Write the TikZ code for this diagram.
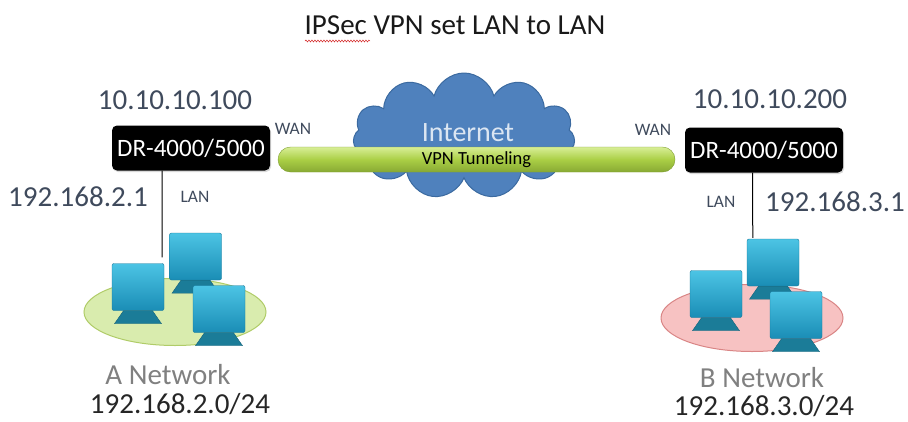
\documentclass[tikz,border=0pt]{standalone}
\usepackage{fontspec}
\setmainfont{Carlito}
\usepackage{tikz}
\usetikzlibrary{positioning,shapes,shadows}
\usetikzlibrary{decorations.pathmorphing}
\usepackage{xcolor}
\definecolor{ipgray}{HTML}{3F4A5C}
\definecolor{netgray}{HTML}{808080}
\definecolor{cloudblue}{HTML}{4F81BD}
\definecolor{cloudedge}{HTML}{3B6AA0}
\definecolor{cloudtext}{HTML}{DCE6F2}
\definecolor{tubetop}{HTML}{D8EE96}
\definecolor{tubemid}{HTML}{AACF45}
\definecolor{tubebot}{HTML}{88A934}
\definecolor{tubeedge}{HTML}{7E9E30}
\definecolor{scrtop}{HTML}{4CC4E4}
\definecolor{scrbot}{HTML}{1A8DB5}
\definecolor{scredge}{HTML}{17789A}
\definecolor{standcol}{HTML}{1B7C98}
\definecolor{lanAfill}{HTML}{D9ECAE}
\definecolor{lanAedge}{HTML}{B0CC68}
\definecolor{lanBfill}{HTML}{F7C2C2}
\definecolor{lanBedge}{HTML}{D98585}

\begin{document}
\begin{tikzpicture}[x=1pt,y=-1pt,
                    router/.style={fill=black,rounded corners=5pt,text=white,
                                   minimum width=158pt,minimum height=45pt,inner sep=0pt,
                                   font=\fontsize{25}{30}\selectfont,
                                   drop shadow={opacity=.3,shadow xshift=1pt,shadow yshift=-1.5pt}},
                    ipaddr/.style={text=ipgray,inner sep=0pt,font=\fontsize{29}{34}\selectfont},
                    port/.style={text=ipgray,inner sep=0pt,font=\fontsize{17.5}{20}\selectfont},
                    netname/.style={text=netgray,inner sep=0pt,font=\fontsize{29}{34}\selectfont},
                    subnet/.style={text=black!85,inner sep=0pt,font=\fontsize{29}{33}\selectfont},
                    screen/.style={draw=scredge,rounded corners=2pt,top color=scrtop,bottom color=scrbot,
                                   minimum width=52pt,minimum height=47pt,inner sep=0pt},
                    lan/.style={ellipse,minimum width=182pt,minimum height=67pt,line width=1pt}]
    \useasboundingbox (0,0) rectangle (908,421);

    \node[inner sep=0pt,text=black!90,font=\fontsize{29}{34}\selectfont] (title) at (455,25) {IPSec VPN set LAN to LAN};
    \draw[red!80!black,decorate,decoration={snake,amplitude=1pt,segment length=3pt}]
        (305,41) -- (370,41);

    \node[cloud,cloud puffs=11,aspect=1.55,fill=cloudblue,draw=cloudedge,line width=1pt,
          minimum width=222pt,minimum height=126pt] (inet) at (464,136) {};
    \node[text=cloudtext,inner sep=0pt,font=\fontsize{28}{32}\selectfont] (inetlbl) at (468,133) {Internet};

    \node[router] (rA) at (191,148) {DR-4000/5000};
    \node[router] (rB) at (764,150) {DR-4000/5000};

    \node[rounded rectangle,draw=tubeedge,top color=tubetop,bottom color=tubebot,middle color=tubemid,
          minimum width=397pt,minimum height=25pt,inner sep=0pt,
          font=\fontsize{18.5}{20}\selectfont] (vpn) at (476.5,159.5) {VPN Tunneling};

    \node[ipaddr] (wanA) at (175,100) {10.10.10.100};
    \node[ipaddr] (wanB) at (770,99) {10.10.10.200};
    \node[port] (wanAlbl) at (293,129) {WAN};
    \node[port] (wanBlbl) at (653,130) {WAN};

    \node[ipaddr] (gwA) at (78,197) {192.168.2.1};
    \node[port] (lanAlbl) at (195,197) {LAN};
    \node[port] (lanBlbl) at (721,202) {LAN};
    \node[ipaddr] (gwB) at (835,202) {192.168.3.1};

    \node[lan,fill=lanAfill,draw=lanAedge] (lanA) at (175,312) {};
    \node[lan,fill=lanBfill,draw=lanBedge] (lanB) at (752,318) {};

    \foreach \n/\x/\y in {pcA2/195.5/256.5, pcA1/138/287, pcA3/219/309,
                          pcB2/773/262.5, pcB1/716/294, pcB3/796/315} {
        \node[screen] (\n) at (\x,\y) {};
        \fill[standcol,draw=standcol!80!black] ([xshift=-14.5pt]\n.south) -- ([xshift=14.5pt]\n.south)
            -- ([xshift=23.5pt,yshift=-13pt]\n.south) -- ([xshift=-23.5pt,yshift=-13pt]\n.south) -- cycle;
    }

    \draw[line width=1pt] ([xshift=-29pt]rA.south) -- ([xshift=-2pt,yshift=6pt]pcA1.north east);
    \draw[line width=1pt] ([xshift=-11.5pt]rB.south) -- ([xshift=6pt,yshift=1pt]pcB2.north west);

    \node[netname] (netA) at (168,375) {A Network};
    \node[subnet] (subA) at (180,404) {192.168.2.0/24};
    \node[netname] (netB) at (762,378) {B Network};
    \node[subnet] (subB) at (764,406) {192.168.3.0/24};
\end{tikzpicture}
\end{document}
